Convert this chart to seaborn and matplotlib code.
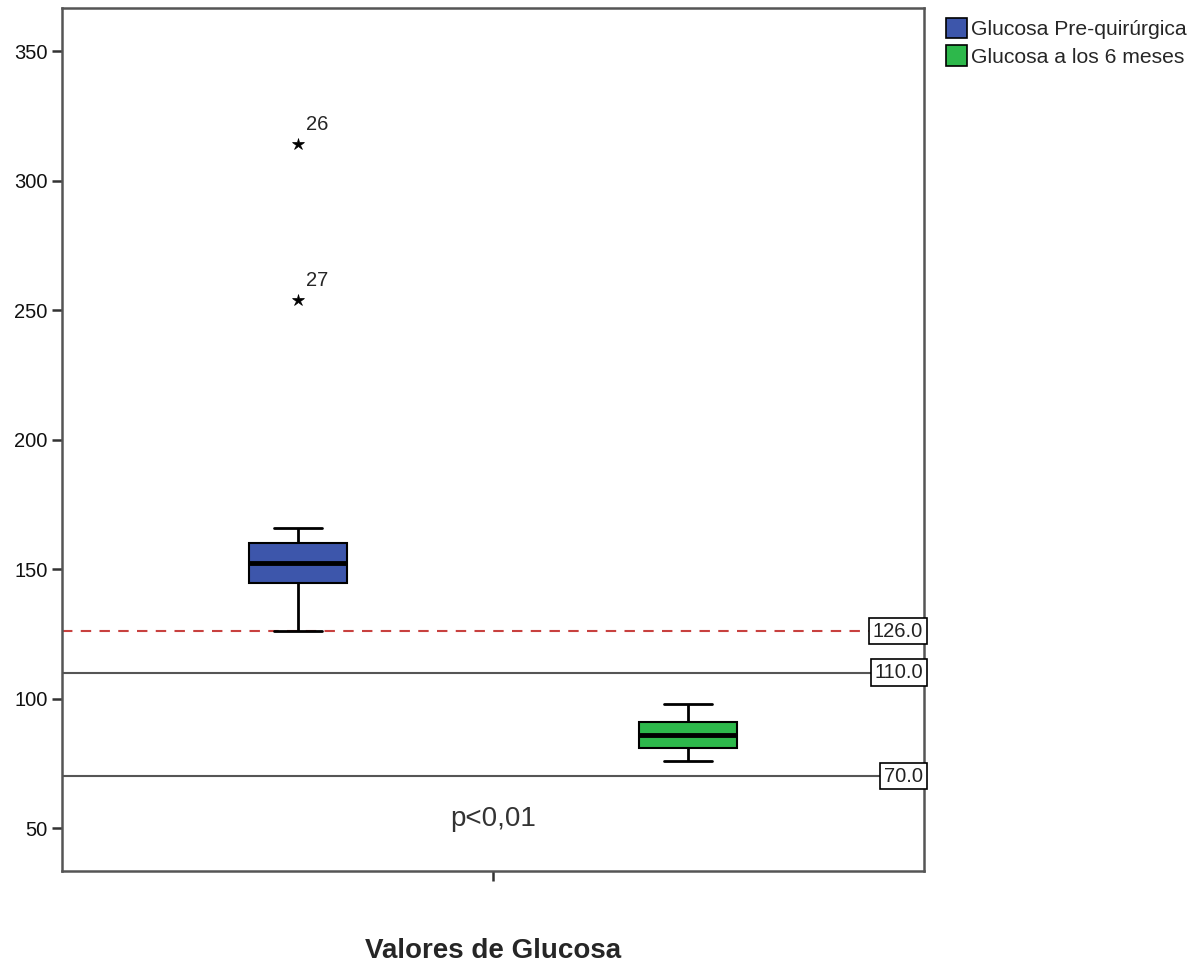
import numpy as np
import pandas as pd
import matplotlib
matplotlib.use("Agg")
import matplotlib.pyplot as plt
import matplotlib.transforms as mtransforms
from matplotlib.patches import Patch
import seaborn as sns

#glucose values per patient (case order)
glucosa_pre = [126, 131, 135, 138, 140, 142, 144, 145, 146, 147, 149, 150, 151, 152,
               153, 154, 155, 156, 158, 159, 160, 160, 161, 162, 164, 314, 254, 166]
glucosa_6m = [76, 77, 78, 79, 80, 80, 81, 81, 82, 83, 84, 85, 85, 86,
              86, 87, 87, 88, 89, 90, 91, 91, 92, 93, 94, 95, 96, 98]
grupos = ["Glucosa Pre-quirúrgica", "Glucosa a los 6 meses"]
colores = ["#3D56AB", "#2DB84B"]
casos_extremos = [26, 27]

#reference lines: value, style
lineas_ref = [126.0, 110.0, 70.0]
estilos_ref = [("#C8413F", (0, (5, 4))), ("#555555", "-"), ("#555555", "-")]

df = pd.DataFrame({
    "categoria": ["Valores de Glucosa"] * (len(glucosa_pre) + len(glucosa_6m)),
    "grupo": [grupos[0]] * len(glucosa_pre) + [grupos[1]] * len(glucosa_6m),
    "glucosa": glucosa_pre + glucosa_6m,
})

sns.set_style("ticks")
plt.rcParams["font.family"] = ["Liberation Sans", "DejaVu Sans"]

fig = plt.figure(figsize=(12.02, 9.68), dpi=100)
ax = fig.add_axes([0.0516, 0.1002, 0.7171, 0.8915])

#reference lines first so boxes sit on top
for val, (col, ls) in zip(lineas_ref, estilos_ref):
    ax.axhline(val, color=col, linestyle=ls, linewidth=1.5, zorder=1)

sns.boxplot(data=df, x="categoria", y="glucosa", hue="grupo", hue_order=grupos,
            palette=colores, saturation=1, width=0.8, gap=0.75, dodge=True, legend=False,
            linecolor="black", linewidth=1.5,
            medianprops=dict(linewidth=3.5, color="black"),
            whiskerprops=dict(linewidth=2, color="black"),
            capprops=dict(linewidth=2, color="black"),
            flierprops=dict(marker="*", markersize=9, markerfacecolor="black",
                            markeredgecolor="black", markeredgewidth=0.5),
            ax=ax, zorder=3)

#label the extreme cases with their case number
x_pre = -0.2
for caso in casos_extremos:
    ax.annotate(str(caso), (x_pre, glucosa_pre[caso - 1]), xytext=(6, 14),
                textcoords="offset points", ha="left", va="center", fontsize=14.5)

#value boxes on the right edge
trans = mtransforms.blended_transform_factory(ax.transAxes, ax.transData)
for val in lineas_ref:
    ax.text(0.999, val, f"{val:.1f}", transform=trans, ha="right", va="center",
            fontsize=14.5, color="#222222", zorder=5,
            bbox=dict(boxstyle="square,pad=0.18", fc="white", ec="black", lw=1.2))

ax.text(0.0, 53.5, "p<0,01", ha="center", va="center", fontsize=20, color="#333333")

ax.set_xlim(-0.442, 0.442)
ax.set_ylim(33.4, 366.6)
ax.set_yticks([50, 100, 150, 200, 250, 300, 350])
ax.set_xticklabels([""])
ax.set_ylabel("")
ax.set_xlabel("Valores de Glucosa", fontsize=20, fontweight="bold", labelpad=38)
ax.tick_params(axis="both", direction="out", length=7, width=1.8, labelsize=14.5,
               color="#333333", labelcolor="#111111")
for sp in ax.spines.values():
    sp.set_visible(True)
    sp.set_color("#555555")
    sp.set_linewidth(1.8)

handles = [Patch(facecolor=c, edgecolor="black", linewidth=1.2) for c in colores]
fig.legend(handles, grupos, loc="upper left", bbox_to_anchor=(0.775, 0.997),
           frameon=False, fontsize=15.2, handlelength=1.0, handleheight=1.1,
           handletextpad=0.15, labelspacing=0.3, borderpad=0.2)

fig.savefig("out.png", dpi=100)
